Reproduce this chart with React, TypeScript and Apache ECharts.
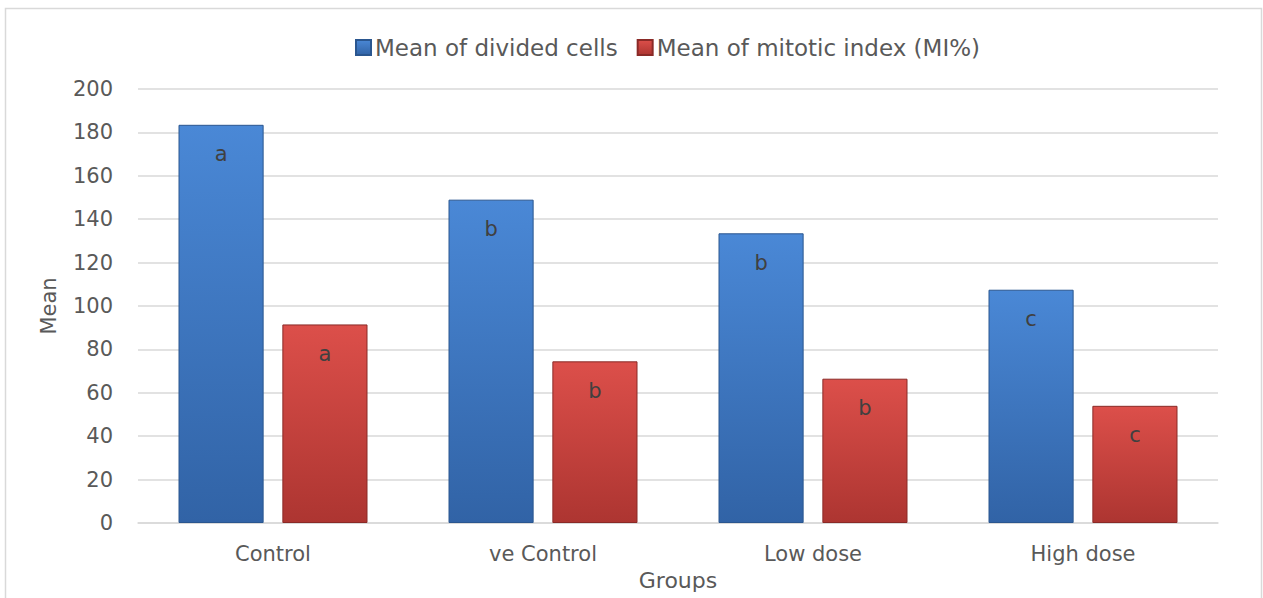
import React, { useEffect, useRef } from "react";
import * as echarts from "echarts";

const categories = ["Control", "ve Control", "Low dose", "High dose"];
const dividedCells = [183.5, 149, 133.5, 107.5];
const mitoticIndex = [91.5, 74.5, 66.5, 54];
const dividedLetters = ["a", "b", "b", "c"];
const mitoticLetters = ["a", "b", "b", "c"];
const yTicks = { min: 0, max: 200, interval: 20 };

const FONT = "'DejaVu Sans', 'Open Sans', sans-serif";

export default function App() {
  const ref = useRef<HTMLDivElement>(null);
  useEffect(() => {
    if (!ref.current) return;
    const chart = echarts.init(ref.current, undefined, { renderer: "svg" });
    const blue = new echarts.graphic.LinearGradient(0, 0, 0, 1, [
      { offset: 0, color: "#4a88d6" },
      { offset: 1, color: "#3163a6" },
    ]);
    const red = new echarts.graphic.LinearGradient(0, 0, 0, 1, [
      { offset: 0, color: "#dc4f4a" },
      { offset: 1, color: "#ad3531" },
    ]);
    chart.setOption({
      animation: false,
      backgroundColor: "#ffffff",
      textStyle: { fontFamily: FONT },
      graphic: [
        {
          type: "rect",
          shape: { x: 5.5, y: 8.5, width: 1256, height: 600 },
          style: { fill: "none", stroke: "#d9d9d9", lineWidth: 1.5 },
          silent: true,
        },
      ],
      legend: {
        left: 350,
        top: 31,
        itemWidth: 15,
        itemHeight: 15,
        itemGap: 19,
        icon: "rect",
        textStyle: { fontSize: 23, color: "#595959", fontFamily: FONT, padding: [0, 0, 0, -1] },
        data: ["Mean of divided cells", "Mean of mitotic index (MI%)"],
      },
      grid: { left: 138, right: 45, top: 89, bottom: 75 },
      xAxis: {
        type: "category",
        data: categories,
        name: "Groups",
        nameLocation: "middle",
        nameGap: 46,
        nameTextStyle: { fontSize: 22, color: "#595959", fontFamily: FONT },
        axisLine: { lineStyle: { color: "#d9d9d9", width: 1.5 } },
        axisTick: { show: false },
        axisLabel: { fontSize: 21, color: "#595959", margin: 20, fontFamily: FONT },
      },
      yAxis: {
        type: "value",
        min: yTicks.min,
        max: yTicks.max,
        interval: yTicks.interval,
        name: "Mean",
        nameLocation: "middle",
        nameGap: 79,
        nameTextStyle: { fontSize: 21, color: "#595959", fontFamily: FONT },
        axisLine: { show: false },
        axisTick: { show: false },
        axisLabel: { fontSize: 21, color: "#595959", margin: 25, fontFamily: FONT },
        splitLine: { lineStyle: { color: "#d9d9d9", width: 1.5 } },
      },
      series: [
        {
          name: "Mean of divided cells",
          type: "bar",
          data: dividedCells,
          barGap: "22%",
          barCategoryGap: "30%",
          itemStyle: { color: blue, borderColor: "#2a568f", borderWidth: 1 },
          label: {
            show: true,
            position: "insideTop",
            distance: 19,
            fontSize: 21,
            color: "#404040",
            fontFamily: FONT,
            formatter: (p: any) => dividedLetters[p.dataIndex],
          },
        },
        {
          name: "Mean of mitotic index (MI%)",
          type: "bar",
          data: mitoticIndex,
          itemStyle: { color: red, borderColor: "#8a2a27", borderWidth: 1 },
          label: {
            show: true,
            position: "insideTop",
            distance: 19,
            fontSize: 21,
            color: "#404040",
            fontFamily: FONT,
            formatter: (p: any) => mitoticLetters[p.dataIndex],
          },
        },
      ],
      color: ["#3d78c4", "#c0403c"],
    });
    return () => chart.dispose();
  }, []);
  return (
    <div
      ref={ref}
      style={{ position: "fixed", left: 0, top: 0, width: 1263, height: 598 }}
    />
  );
}
